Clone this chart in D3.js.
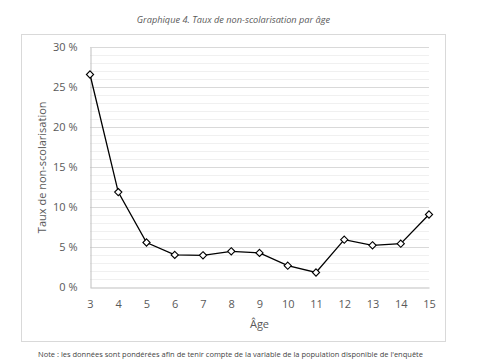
<!DOCTYPE html>
<html><head><meta charset="utf-8">
<script src="https://cdn.jsdelivr.net/npm/d3@7"></script>
<style>body{margin:0;background:#fff}svg{display:block}</style>
</head><body>
<script>
const ages = [3,4,5,6,7,8,9,10,11,12,13,14,15];
const rates = [26.6,11.9,5.6,4.05,4.0,4.5,4.3,2.7,1.85,5.95,5.25,5.45,9.1];
const yTicks = [0,5,10,15,20,25,30];
const title = "Graphique 4. Taux de non-scolarisation par âge";
const yTitle = "Taux de non-scolarisation";
const xTitle = "Âge";
const note = "Note : les données sont pondérées afin de tenir compte de la variable de la population disponible de l'enquête";

const W=485,H=360;
const svg=d3.select("body").append("svg").attr("width",W).attr("height",H);
const font="'Open Sans', sans-serif";
const txt="#595959";

// outer chart frame
svg.append("rect").attr("x",21.5).attr("y",34.5).attr("width",424).attr("height",307)
  .attr("fill","#fff").attr("stroke","#d9d9d9");

svg.append("text").attr("x",233.5).attr("y",23).attr("text-anchor","middle")
  .attr("font-family",font).attr("font-style","italic").attr("font-size",9.2)
  .attr("fill",txt).text(title);

const x=d3.scaleLinear().domain([3,15]).range([90,429]);
const y=d3.scaleLinear().domain([0,30]).range([287.3,47.3]);

// minor grid
const g=svg.append("g");
g.selectAll("line.minor").data(d3.range(0,31,1).filter(v=>v%5!==0)).join("line")
  .attr("x1",x(3)).attr("x2",x(15)).attr("y1",d=>Math.round(y(d))+0.5).attr("y2",d=>Math.round(y(d))+0.5)
  .attr("stroke","#f0f0f0").attr("stroke-width",1);
g.selectAll("line.major").data(yTicks.filter(v=>v>0)).join("line")
  .attr("x1",x(3)).attr("x2",x(15)).attr("y1",d=>Math.round(y(d))+0.5).attr("y2",d=>Math.round(y(d))+0.5)
  .attr("stroke","#d9d9d9").attr("stroke-width",1);

// axes
const yAxis=d3.axisLeft(y).tickValues(yTicks).tickFormat(d=>d+" %").tickSize(0).tickPadding(13);
const ya=svg.append("g").attr("transform",`translate(${Math.round(x(3))+0.5},0)`).call(yAxis);
ya.select(".domain").attr("stroke","#bfbfbf");
ya.selectAll("text").attr("font-family",font).attr("font-size",11).attr("fill",txt);

const xAxis=d3.axisBottom(x).tickValues(ages).tickFormat(d3.format("d")).tickSize(0).tickPadding(13);
const xa=svg.append("g").attr("transform",`translate(0,${Math.round(y(0))+0.5})`).call(xAxis);
xa.select(".domain").attr("stroke","#bfbfbf");
xa.selectAll("text").attr("font-family",font).attr("font-size",11).attr("fill",txt);

svg.append("text").attr("x",(x(3)+x(15))/2).attr("y",328).attr("text-anchor","middle")
  .attr("font-family",font).attr("font-size",11).attr("fill",txt).text(xTitle);
svg.append("text").attr("transform",`translate(46,${y(15)}) rotate(-90)`).attr("text-anchor","middle")
  .attr("font-family",font).attr("font-size",11).attr("fill",txt).text(yTitle);

// line
const data=ages.map((a,i)=>({a,v:rates[i]}));
svg.append("path").datum(data).attr("fill","none").attr("stroke","#000").attr("stroke-width",1.3)
  .attr("d",d3.line().x(d=>x(d.a)).y(d=>y(d.v)));
svg.selectAll("path.pt").data(data).join("path")
  .attr("transform",d=>`translate(${x(d.a)},${y(d.v)})`)
  .attr("d","M0,-3.6L3.6,0L0,3.6L-3.6,0Z").attr("fill","#fff").attr("stroke","#000").attr("stroke-width",1.1);

// note at bottom
svg.append("text").attr("x",38).attr("y",357)
  .attr("textLength",385).attr("lengthAdjust","spacingAndGlyphs")
  .attr("font-family",font).attr("font-size",7.5).attr("fill","#444").text(note);
</script>
</body></html>
